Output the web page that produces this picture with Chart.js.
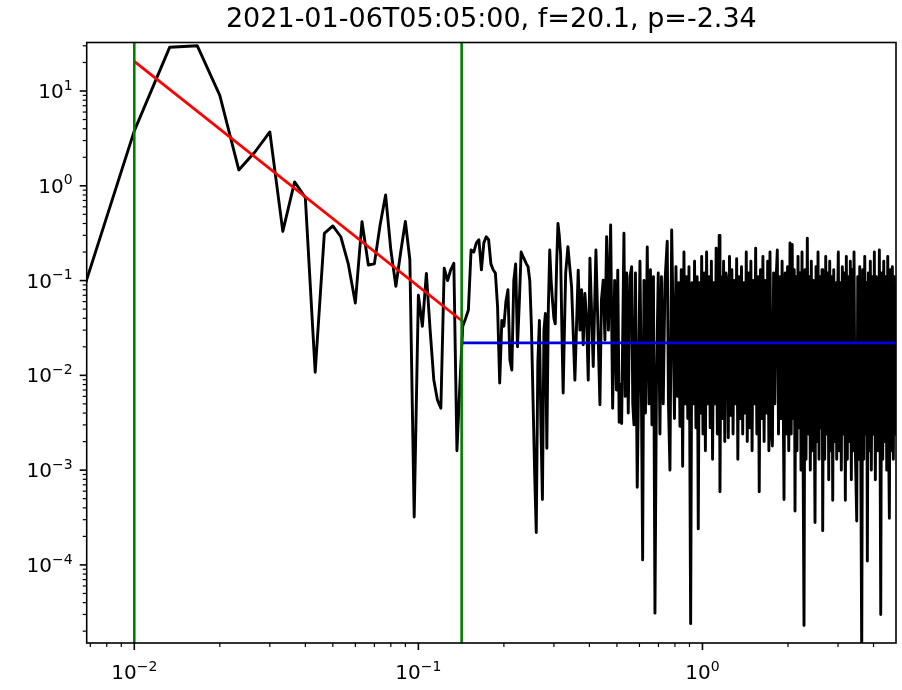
<!DOCTYPE html>
<html>
<head>
<meta charset="utf-8">
<script src="https://cdn.jsdelivr.net/npm/chart.js"></script>
<style>
  html, body { margin: 0; padding: 0; background: #fff; }
  canvas { display: block; }
</style>
</head>
<body>
<canvas id="psd" width="902" height="690"></canvas>
<script>
const titleText = '2021-01-06T05:05:00, f=20.1, p=-2.34';

// spectrum, first bins (df = 1/300 Hz)
const freqLow = [0.006667, 0.01, 0.01333, 0.01667, 0.02, 0.02333, 0.02667, 0.03, 0.03333, 0.03667,
  0.04, 0.04333, 0.04667, 0.05, 0.05333, 0.05667, 0.06, 0.06333, 0.06667, 0.07,
  0.07333, 0.07667, 0.08, 0.08333, 0.08667, 0.09, 0.09333, 0.09667, 0.1, 0.1033,
  0.1067, 0.11, 0.1133, 0.1167, 0.12, 0.1233, 0.1267, 0.13, 0.1333];
const powerLow = [0.085, 3.8, 29, 30, 9.0, 1.47, 2.3, 3.7, 0.33, 1.1,
  0.75, 0.0108, 0.315, 0.377, 0.29, 0.15, 0.058, 0.418, 0.146, 0.15,
  0.386, 0.80, 0.21, 0.087, 0.2, 0.42, 0.166, 0.00032, 0.07, 0.033,
  0.119, 0.03, 0.009, 0.0055, 0.0045, 0.135, 0.10, 0.13, 0.152];

// spectrum, 0.137 - 0.33 Hz
const freqMid = [0.1367, 0.14, 0.1433, 0.1467, 0.15, 0.1533, 0.1567, 0.16, 0.1633, 0.1667,
  0.17, 0.1733, 0.1767, 0.18, 0.1833, 0.1867, 0.19, 0.1933, 0.1967, 0.2,
  0.2033, 0.2067, 0.21, 0.2133, 0.2167, 0.22, 0.2233, 0.2267, 0.23, 0.2333,
  0.2367, 0.24, 0.2433, 0.2467, 0.25, 0.2533, 0.2567, 0.26, 0.2633, 0.2667,
  0.27, 0.2733, 0.2767, 0.28, 0.2833, 0.2867, 0.29, 0.2933, 0.2967, 0.3,
  0.3033, 0.3067, 0.31, 0.3133, 0.3167, 0.32, 0.3233, 0.3267, 0.33];
const powerMid = [0.0016, 0.008, 0.033, 0.04, 0.049, 0.21, 0.20, 0.25, 0.27, 0.13,
  0.25, 0.29, 0.27, 0.15, 0.13, 0.12, 0.053, 0.0083, 0.038, 0.033,
  0.06, 0.08, 0.0145, 0.0114, 0.10, 0.15, 0.02, 0.06, 0.20, 0.18,
  0.165, 0.15, 0.14, 0.10, 0.033, 0.0055, 0.0009, 0.00022, 0.0134, 0.038,
  0.003, 0.00049, 0.03, 0.045, 0.0017, 0.05, 0.21, 0.10, 0.06, 0.04,
  0.035, 0.15, 0.40, 0.30, 0.19, 0.03, 0.0065, 0.03, 0.12];

// spectrum, 0.33 Hz - Nyquist (dense part: local max / min per pixel column)
const freqHigh = [0.336, 0.3462, 0.3556, 0.3653, 0.3704, 0.3755, 0.3805, 0.3857, 0.3911, 0.3962,
  0.4017, 0.4126, 0.4217, 0.4356, 0.4409, 0.4474, 0.4536, 0.4599, 0.4667, 0.4751,
  0.4829, 0.4908, 0.498, 0.5033, 0.5091, 0.5144, 0.5194, 0.5292, 0.5347, 0.5409,
  0.548, 0.5556, 0.5633, 0.5684, 0.5739, 0.5809, 0.5894, 0.5953, 0.6025, 0.6098,
  0.6158, 0.6224, 0.63, 0.6392, 0.6482, 0.656, 0.664, 0.6721, 0.6804, 0.6887,
  0.6988, 0.7085, 0.7171, 0.7278, 0.7378, 0.7516, 0.7591, 0.7684, 0.7791, 0.7873,
  0.797, 0.8067, 0.8167, 0.8253, 0.8332, 0.842, 0.8516, 0.8607, 0.869, 0.8784,
  0.8877, 0.8964, 0.9087, 0.9184, 0.9282, 0.9379, 0.9487, 0.9579, 0.9665, 0.9761,
  0.9856, 0.9936, 1.0041, 1.014, 1.024, 1.034, 1.0441, 1.0543, 1.0644, 1.0748,
  1.0853, 1.096, 1.1067, 1.1175, 1.1284, 1.1394, 1.1451, 1.1525, 1.1638, 1.1752,
  1.1867, 1.1983, 1.21, 1.2218, 1.2327, 1.2449, 1.2569, 1.2692, 1.2815, 1.2939,
  1.3065, 1.3193, 1.332, 1.345, 1.3587, 1.3719, 1.3854, 1.3988, 1.4125, 1.4262,
  1.4377, 1.4518, 1.4659, 1.4806, 1.495, 1.5096, 1.5243, 1.5391, 1.5541, 1.5691,
  1.5843, 1.6005, 1.6162, 1.6321, 1.648, 1.6641, 1.6804, 1.6968, 1.7134, 1.7286,
  1.7455, 1.7627, 1.7799, 1.7972, 1.8149, 1.8342, 1.852, 1.8703, 1.8883, 1.9067,
  1.9365, 1.955, 1.9741, 1.9933, 2.0128, 2.033, 2.0529, 2.0696, 2.0865, 2.1035,
  2.1172, 2.1344, 2.1519, 2.1694, 2.1871, 2.2047, 2.2226, 2.2408, 2.2589, 2.2775,
  2.296, 2.3147, 2.3394, 2.3586, 2.3778, 2.3966, 2.4163, 2.4361, 2.456, 2.476,
  2.4899, 2.5102, 2.5308, 2.5513, 2.5721, 2.5928, 2.6138, 2.6353, 2.6501, 2.6719,
  2.6936, 2.7157, 2.7377, 2.76, 2.7826, 2.8052, 2.8278, 2.8509, 2.8742, 2.8976,
  2.9212, 2.9451, 2.969, 2.988, 3.0075, 3.032, 3.0566, 3.0816, 3.1069, 3.1322,
  3.1578, 3.1835, 3.2094, 3.2353, 3.2618, 3.2884, 3.3148, 3.342, 3.3694, 3.3968,
  3.416, 3.4438, 3.4918, 3.5202, 3.5489, 3.5777, 3.6066, 3.6361, 3.6658, 3.6956,
  3.7257, 3.7562, 3.7838, 3.8053, 3.8365, 3.8677, 3.8984, 3.9303, 3.9626, 3.9949,
  4.0275, 4.0602, 4.0933, 4.1263, 4.1602, 4.194, 4.2416, 4.2762, 4.3112, 4.3463,
  4.3817, 4.4176, 4.4534, 4.4896, 4.5187, 4.5487, 4.5849, 4.6223, 4.6602, 4.6982,
  4.7367, 4.7751, 4.8];
const powerHigh = [0.228, 0.086, 0.0089, 0.129, 0.030, 0.080, 0.021, 0.073, 0.038, 0.0089,
  0.172, 0.0124, 0.21, 0.0049, 0.062, 0.101, 0.0236, 0.29, 0.030, 0.386,
  0.0045, 0.1, 0.007, 0.129, 0.0032, 0.008, 0.0031, 0.316, 0.006, 0.12,
  0.004, 0.11, 0.14, 0.005, 0.003, 0.12, 0.00066, 0.007, 0.16, 0.006,
  0.000113, 0.1, 0.004, 0.226, 0.005, 0.13, 0.003, 0.11, 0.000031, 0.008,
  0.12, 0.0024, 0.11, 0.005, 0.095, 0.26, 0.005, 0.0010, 0.342, 0.05,
  0.0035, 0.14, 0.006, 0.095, 0.0029, 0.13, 0.0011, 0.2, 0.005, 0.11,
  0.0035, 0.14, 0.000024, 0.095, 0.005, 0.16, 0.0028, 0.11, 0.00024, 0.095,
  0.004, 0.18, 0.0024, 0.12, 0.0016, 0.2, 0.005, 0.11, 0.0028, 0.16,
  0.0013, 0.095, 0.005, 0.22, 0.0024, 0.0035, 0.3, 0.00059, 0.11, 0.0035,
  0.16, 0.002, 0.12, 0.095, 0.0022, 0.18, 0.0038, 0.13, 0.0024, 0.10,
  0.005, 0.17, 0.0013, 0.11, 0.0035, 0.14, 0.0024, 0.095, 0.004, 0.2,
  0.002, 0.12, 0.0028, 0.16, 0.0016, 0.10, 0.005, 0.22, 0.0024, 0.11,
  0.00059, 0.13, 0.0035, 0.18, 0.002, 0.10, 0.004, 0.16, 0.0016, 0.2,
  0.0028, 0.0018, 0.12, 0.005, 0.095, 0.21, 0.0024, 0.11, 0.0035, 0.16,
  0.00049, 0.12, 0.0024, 0.14, 0.0016, 0.25, 0.0024, 0.24, 0.0035, 0.13,
  0.00037, 0.11, 0.0016, 0.18, 0.0028, 0.12, 0.0010, 0.2, 0.002, 0.000023,
  0.13, 0.0013, 0.28, 0.0024, 0.11, 0.0010, 0.16, 0.0016, 0.10, 0.0035,
  0.00028, 0.14, 0.002, 0.2, 0.0013, 0.11, 0.0028, 0.13, 0.00023, 0.095,
  0.0013, 0.18, 0.0024, 0.12, 0.00079, 0.16, 0.0016, 0.11, 0.00048, 0.13,
  0.002, 0.095, 0.0013, 0.05, 0.2, 0.0016, 0.095, 0.0010, 0.14, 0.0024,
  0.12, 0.00048, 0.18, 0.0013, 0.11, 0.002, 0.16, 0.00079, 0.13, 0.0016,
  0.2, 0.0024, 0.00029, 0.11, 0.0013, 0.14, 0.002, 0.00001, 0.13, 0.0013,
  0.18, 0.0024, 0.095, 0.00011, 0.12, 0.0016, 0.16, 0.0010, 0.11, 0.0024,
  0.2, 0.00079, 0.11, 0.002, 0.0016, 0.21, 0.00003, 0.12, 0.0013, 0.16,
  0.002, 0.11, 0.0010, 0.18, 0.0024, 0.00031, 0.13, 0.0016, 0.14, 0.0013,
  0.11, 0.0024, 0.095];

// power law fit (red) and flat noise level (blue)
const fitFreq = [0.01, 0.1433];
const fitPower = [20.5, 0.037];
const noiseFreq = [0.1433, 4.8];
const noisePower = [0.022, 0.022];

// fit range markers (green)
const bandEdges = [0.01, 0.142];

// axes
const xLimits = [0.0068, 4.8];
const yLimits = [1.5e-5, 32.5];
const xTickExp = [-2, -1, 0];
const yTickExp = [-4, -3, -2, -1, 0, 1];

const FONT = "'DejaVu Sans', sans-serif";
const LABEL_SIZE = 20;

function pairs(xs, ys) {
  return xs.map((x, i) => ({ x: x, y: ys[i] }));
}

const spectrum = pairs(freqLow, powerLow)
  .concat(pairs(freqMid, powerMid))
  .concat(pairs(freqHigh, powerHigh));

function lineSet(data, color, width) {
  return {
    data: data,
    borderColor: color,
    borderWidth: width,
    pointRadius: 0,
    tension: 0,
    fill: false,
    clip: 0,
    borderJoinStyle: 'round'
  };
}

// draws 10^exp the way mathtext does
function drawPow(ctx, exp, x, y, align) {
  const sup = exp < 0 ? '\u2212' + (-exp) : String(exp);
  const small = Math.round(LABEL_SIZE * 0.7);
  ctx.font = LABEL_SIZE + 'px ' + FONT;
  const wb = ctx.measureText('10').width;
  ctx.font = small + 'px ' + FONT;
  const ws = ctx.measureText(sup).width;
  const left = align === 'right' ? x - wb - ws : x - (wb + ws) / 2;
  ctx.textAlign = 'left';
  ctx.textBaseline = 'alphabetic';
  ctx.font = LABEL_SIZE + 'px ' + FONT;
  ctx.fillText('10', left, y);
  ctx.font = small + 'px ' + FONT;
  ctx.fillText(sup, left + wb, y - LABEL_SIZE * 0.42);
}

const mplAxes = {
  id: 'mplAxes',
  afterDraw(chart) {
    const ctx = chart.ctx;
    const a = chart.chartArea;
    const xs = chart.scales.x;
    const ys = chart.scales.y;
    ctx.save();
    ctx.strokeStyle = '#000';
    ctx.fillStyle = '#000';

    function tick(x1, y1, x2, y2, w) {
      ctx.lineWidth = w;
      ctx.beginPath();
      ctx.moveTo(x1, y1);
      ctx.lineTo(x2, y2);
      ctx.stroke();
    }

    for (let e = -6; e <= 2; e++) {
      for (let m = 1; m <= 9; m++) {
        const v = m * Math.pow(10, e);
        const major = m === 1;
        const len = major ? 7 : 4;
        const w = major ? 1.6 : 1.2;
        if (v >= xs.min && v <= xs.max) {
          const px = xs.getPixelForValue(v);
          tick(px, a.bottom, px, a.bottom + len, w);
        }
        if (v >= ys.min && v <= ys.max) {
          const py = ys.getPixelForValue(v);
          tick(a.left, py, a.left - len, py, w);
        }
      }
    }

    ctx.lineWidth = 1.6;
    ctx.strokeRect(a.left, a.top, a.right - a.left, a.bottom - a.top);

    xTickExp.forEach(e => {
      drawPow(ctx, e, xs.getPixelForValue(Math.pow(10, e)), a.bottom + 36, 'center');
    });
    yTickExp.forEach(e => {
      drawPow(ctx, e, a.left - 14, ys.getPixelForValue(Math.pow(10, e)) + 7, 'right');
    });
    ctx.restore();
  }
};

Chart.defaults.font.family = FONT;

new Chart(document.getElementById('psd'), {
  type: 'line',
  data: {
    datasets: [
      lineSet([{ x: bandEdges[0], y: yLimits[0] }, { x: bandEdges[0], y: yLimits[1] }], '#008000', 2.6),
      lineSet([{ x: bandEdges[1], y: yLimits[0] }, { x: bandEdges[1], y: yLimits[1] }], '#008000', 2.6),
      lineSet(pairs(noiseFreq, noisePower), '#0000dd', 2.8),
      lineSet(pairs(fitFreq, fitPower), '#ff0000', 2.8),
      lineSet(spectrum, '#000000', 2.9)
    ]
  },
  options: {
    responsive: false,
    animation: false,
    devicePixelRatio: 1,
    layout: { padding: { left: 0, right: 6, top: 0, bottom: 0 } },
    plugins: {
      legend: { display: false },
      tooltip: { enabled: false },
      title: {
        display: true,
        fullSize: false,
        text: titleText,
        color: '#000',
        font: { family: FONT, size: 27, weight: 'normal', lineHeight: 1.2 },
        padding: { top: 4, bottom: 6.1 }
      }
    },
    scales: {
      x: {
        type: 'logarithmic',
        min: xLimits[0],
        max: xLimits[1],
        grid: { display: false },
        border: { display: false },
        ticks: { display: false },
        afterFit: s => { s.height = 47; }
      },
      y: {
        type: 'logarithmic',
        min: yLimits[0],
        max: yLimits[1],
        grid: { display: false },
        border: { display: false },
        ticks: { display: false },
        afterFit: s => { s.width = 86.7; }
      }
    }
  },
  plugins: [mplAxes]
});
</script>
</body>
</html>
